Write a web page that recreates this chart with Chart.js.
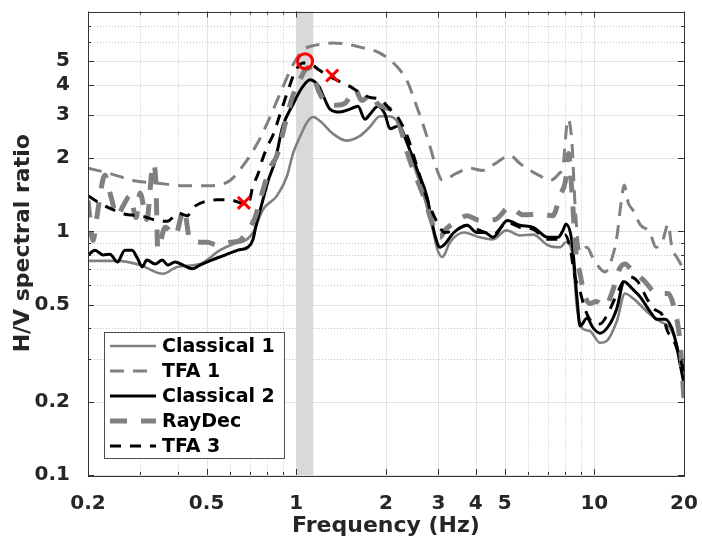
<!DOCTYPE html>
<html>
<head>
<meta charset="utf-8">
<script src="https://cdn.jsdelivr.net/npm/chart.js@4.4.1/dist/chart.umd.min.js"></script>
<style>
  html, body { margin: 0; padding: 0; background: #fff; }
</style>
</head>
<body>
<canvas id="hvChart" width="702" height="543"></canvas>
<script>
// H/V curves: frequency (Hz) and spectral ratio for each method
const classical1Freq = [0.2, 0.251, 0.299, 0.357, 0.398, 0.475, 0.555, 0.611, 0.683, 0.716, 0.773, 0.861, 0.931, 0.975, 1.029, 1.087, 1.138, 1.201, 1.328, 1.469, 1.636, 1.767, 1.909, 2.03, 2.18, 2.316, 2.47, 2.66, 2.87, 2.98, 3.09, 3.28, 3.65, 4.13, 4.57, 5.07, 5.63, 6.24, 6.98, 7.68, 8.03, 8.42, 8.75, 9.10, 9.67, 10.45, 11.0, 11.9, 12.67, 13.5, 15.37, 16.6, 17.94, 18.9, 20];
const classical1Ratio = [0.757, 0.757, 0.728, 0.670, 0.715, 0.735, 0.838, 0.886, 0.928, 0.99, 1.23, 1.40, 1.69, 2.09, 2.45, 2.81, 2.95, 2.84, 2.52, 2.36, 2.47, 2.69, 2.97, 2.97, 2.84, 2.47, 1.90, 1.44, 1.02, 0.838, 0.785, 0.903, 0.99, 0.946, 0.928, 1.01, 0.963, 0.97, 0.878, 0.861, 0.903, 0.822, 0.483, 0.401, 0.390, 0.349, 0.355, 0.428, 0.556, 0.531, 0.457, 0.428, 0.401, 0.345, 0.245];

const tfa1Freq = [0.2, 0.237, 0.283, 0.341, 0.42, 0.502, 0.599, 0.66, 0.739, 0.816, 0.90, 0.975, 1.054, 1.164, 1.328, 1.469, 1.636, 1.909, 2.18, 2.36, 2.50, 2.66, 2.81, 2.97, 3.09, 3.44, 3.83, 4.20, 4.65, 5.21, 5.63, 6.09, 6.58, 7.10, 7.62, 7.85, 8.16, 8.42, 8.61, 8.96, 9.45, 9.86, 10.36, 10.86, 11.5, 11.9, 12.3, 12.6, 13.0, 13.5, 14.23, 15.37, 16.1, 16.9, 17.7, 18.2, 18.9, 19.5, 20];
const tfa1Ratio = [1.82, 1.73, 1.62, 1.58, 1.54, 1.54, 1.62, 1.85, 2.29, 2.95, 3.90, 4.83, 5.56, 5.82, 5.94, 5.88, 5.71, 5.40, 4.74, 4.12, 3.42, 2.76, 2.23, 1.78, 1.62, 1.73, 1.82, 1.78, 1.90, 2.05, 1.90, 1.78, 1.69, 1.62, 1.73, 1.85, 2.89, 2.29, 1.31, 0.822, 0.861, 0.785, 0.715, 0.682, 0.785, 0.946, 1.31, 1.55, 1.31, 1.22, 1.07, 0.99, 0.861, 0.903, 1.07, 0.861, 0.785, 0.735, 0.682];

const classical2Freq = [0.2, 0.211, 0.225, 0.237, 0.251, 0.266, 0.281, 0.294, 0.304, 0.315, 0.336, 0.355, 0.371, 0.392, 0.417, 0.447, 0.475, 0.52, 0.577, 0.637, 0.688, 0.716, 0.733, 0.768, 0.804, 0.848, 0.90, 0.975, 1.046, 1.112, 1.19, 1.238, 1.297, 1.40, 1.514, 1.61, 1.70, 1.767, 1.88, 1.984, 2.062, 2.20, 2.36, 2.55, 2.74, 2.92, 3.035, 3.15, 3.38, 3.74, 4.04, 4.29, 4.57, 5.11, 5.63, 6.24, 6.98, 7.56, 7.85, 8.03, 8.42, 8.75, 8.96, 9.45, 9.92, 10.45, 11.28, 11.9, 12.6, 13.4, 14.23, 15.37, 16.2, 17.26, 18.2, 18.9, 19.38, 20];
const classical2Ratio = [0.80, 0.838, 0.80, 0.807, 0.749, 0.838, 0.838, 0.77, 0.715, 0.763, 0.735, 0.763, 0.728, 0.749, 0.728, 0.702, 0.728, 0.763, 0.80, 0.838, 0.861, 0.928, 1.06, 1.31, 1.61, 1.94, 2.69, 3.33, 3.90, 4.20, 3.94, 3.55, 3.18, 3.09, 3.18, 3.27, 2.89, 3.03, 3.27, 3.03, 2.64, 2.71, 2.29, 1.78, 1.40, 0.963, 0.861, 0.886, 0.99, 1.06, 0.99, 0.99, 0.946, 1.11, 1.06, 1.04, 0.946, 0.946, 1.01, 1.07, 0.903, 0.531, 0.409, 0.44, 0.401, 0.382, 0.417, 0.483, 0.622, 0.582, 0.540, 0.470, 0.436, 0.436, 0.401, 0.339, 0.287, 0.236];

const rayDecFreq = [0.2, 0.208, 0.214, 0.228, 0.237, 0.251, 0.262, 0.277, 0.29, 0.299, 0.315, 0.331, 0.338, 0.343, 0.363, 0.392, 0.42, 0.44, 0.502, 0.546, 0.604, 0.647, 0.688, 0.727, 0.768, 0.816, 0.861, 0.917, 0.967, 1.029, 1.095, 1.138, 1.19, 1.248, 1.349, 1.457, 1.574, 1.66, 1.78, 1.88, 2.143, 2.41, 2.70, 2.87, 3.035, 3.15, 3.41, 3.74, 4.13, 4.65, 5.21, 5.77, 6.58, 7.26, 7.68, 8.0, 8.2, 8.35, 8.48, 8.68, 8.96, 9.24, 9.67, 10.15, 10.86, 11.5, 12.1, 12.67, 13.5, 14.6, 16.3, 17.7, 18.65, 19.38, 20];
const rayDecRatio = [1.34, 0.919, 1.14, 1.70, 1.44, 1.16, 1.27, 1.40, 1.14, 1.44, 1.12, 1.90, 1.58, 0.845, 1.04, 0.963, 1.23, 0.919, 0.903, 0.878, 0.903, 0.919, 1.01, 1.14, 1.44, 1.82, 2.05, 2.76, 3.52, 4.20, 4.70, 4.40, 3.76, 3.42, 3.30, 3.36, 3.83, 3.45, 3.65, 3.33, 3.03, 1.94, 1.35, 1.07, 0.946, 1.01, 1.09, 1.16, 1.11, 1.12, 1.26, 1.17, 1.18, 1.16, 1.41, 1.61, 2.09, 1.65, 1.25, 0.822, 0.67, 0.556, 0.506, 0.516, 0.492, 0.566, 0.695, 0.735, 0.682, 0.633, 0.556, 0.556, 0.47, 0.355, 0.203];

const tfa3Freq = [0.2, 0.223, 0.246, 0.273, 0.299, 0.341, 0.369, 0.402, 0.43, 0.457, 0.497, 0.546, 0.599, 0.647, 0.688, 0.716, 0.745, 0.768, 0.80, 0.839, 0.882, 0.953, 0.99, 1.054, 1.13, 1.19, 1.297, 1.514, 1.61, 1.767, 1.909, 2.062, 2.18, 2.36, 2.55, 2.74, 2.97, 3.15, 3.41, 3.74, 4.13, 4.57, 5.11, 5.63, 6.24, 6.98, 7.56, 7.97, 8.29, 8.61, 8.96, 9.31, 9.92, 10.45, 11.0, 11.73, 12.5, 13.17, 14.0, 15.0, 15.8, 17.0, 17.6, 18.5, 19.38, 20];
const tfa3Ratio = [1.40, 1.29, 1.22, 1.17, 1.16, 1.11, 1.10, 1.19, 1.16, 1.27, 1.33, 1.35, 1.35, 1.31, 1.29, 1.54, 1.73, 1.96, 2.23, 2.52, 3.03, 4.01, 4.53, 4.92, 4.83, 4.61, 4.32, 3.94, 3.76, 3.55, 3.49, 3.18, 2.97, 2.45, 1.82, 1.37, 1.09, 0.99, 1.01, 1.06, 1.01, 0.97, 1.09, 1.04, 1.02, 0.928, 0.928, 0.97, 0.861, 0.651, 0.566, 0.479, 0.42, 0.417, 0.449, 0.531, 0.622, 0.651, 0.622, 0.531, 0.483, 0.449, 0.39, 0.355, 0.303, 0.264];

// picked peak (circle) and secondary picks (crosses)
const peakFreq = [1.07];
const peakRatio = [5.0];
const crossFreq = [0.667, 1.32];
const crossRatio = [1.31, 4.37];

// shaded frequency band of the peak
const bandRange = [1.0, 1.14];

// axis ticks
const xTickValues = [0.2, 0.5, 1, 2, 3, 4, 5, 10, 20];
const xMinorValues = [0.3, 0.4, 0.6, 0.7, 0.8, 0.9, 6, 7, 8, 9];
const yTickValues = [0.1, 0.2, 0.5, 1, 2, 3, 4, 5];
const yMinorValues = [0.3, 0.4, 0.6, 0.7, 0.8, 0.9, 6, 7];

const GRAY = '#808080';
const AXIS = '#333333';
const FONT = 'DejaVu Sans';

const pts = (f, r) => f.map((v, i) => ({ x: v, y: r[i] }));

const curve = (label, f, r, color, width, dash, order) => ({
    label: label,
    data: pts(f, r),
    borderColor: color,
    borderWidth: width,
    borderDash: dash,
    borderCapStyle: 'butt',
    borderJoinStyle: 'round',
    cubicInterpolationMode: 'monotone',
    pointRadius: 0,
    fill: false,
    order: order
});

// grid, peak band, box frame, inward ticks and the legend box
const framePlugin = {
    id: 'framePlugin',
    beforeDatasetsDraw(chart) {
        const { ctx, chartArea: a, scales: { x, y } } = chart;
        ctx.save();
        ctx.lineWidth = 1;

        // dotted minor grid
        ctx.strokeStyle = '#c4c4c4';
        ctx.setLineDash([1, 2]);
        ctx.beginPath();
        xMinorValues.forEach(v => {
            const px = Math.round(x.getPixelForValue(v)) + 0.5;
            ctx.moveTo(px, a.top); ctx.lineTo(px, a.bottom);
        });
        yMinorValues.forEach(v => {
            const py = Math.round(y.getPixelForValue(v)) + 0.5;
            ctx.moveTo(a.left, py); ctx.lineTo(a.right, py);
        });
        ctx.stroke();

        // solid major grid
        ctx.setLineDash([]);
        ctx.strokeStyle = '#e2e2e2';
        ctx.beginPath();
        xTickValues.forEach(v => {
            const px = Math.round(x.getPixelForValue(v)) + 0.5;
            ctx.moveTo(px, a.top); ctx.lineTo(px, a.bottom);
        });
        yTickValues.forEach(v => {
            const py = Math.round(y.getPixelForValue(v)) + 0.5;
            ctx.moveTo(a.left, py); ctx.lineTo(a.right, py);
        });
        ctx.stroke();

        // peak frequency band
        const b0 = x.getPixelForValue(bandRange[0]);
        const b1 = x.getPixelForValue(bandRange[1]);
        ctx.fillStyle = '#d9d9d9';
        ctx.fillRect(b0, a.top, b1 - b0, a.bottom - a.top);
        ctx.restore();
    },
    afterDatasetsDraw(chart) {
        const { ctx, chartArea: a, scales: { x, y } } = chart;
        ctx.save();
        ctx.strokeStyle = AXIS;
        ctx.lineWidth = 1;
        ctx.setLineDash([]);
        ctx.strokeRect(Math.round(a.left) + 0.5, Math.round(a.top) + 0.5,
            Math.round(a.right - a.left), Math.round(a.bottom - a.top));

        ctx.beginPath();
        const xTick = (v, len) => {
            const px = Math.round(x.getPixelForValue(v)) + 0.5;
            ctx.moveTo(px, a.bottom); ctx.lineTo(px, a.bottom - len);
            ctx.moveTo(px, a.top); ctx.lineTo(px, a.top + len);
        };
        const yTick = (v, len) => {
            const py = Math.round(y.getPixelForValue(v)) + 0.5;
            ctx.moveTo(a.left, py); ctx.lineTo(a.left + len, py);
            ctx.moveTo(a.right, py); ctx.lineTo(a.right - len, py);
        };
        xTickValues.forEach(v => xTick(v, 6));
        xMinorValues.forEach(v => xTick(v, 3));
        yTickValues.forEach(v => yTick(v, 6));
        yMinorValues.forEach(v => yTick(v, 3));
        ctx.stroke();

        // legend box, lower left
        const lx = 104, ly = 332, lw = 180, lh = 126;
        ctx.fillStyle = '#ffffff';
        ctx.fillRect(lx, ly, lw, lh);
        ctx.strokeStyle = '#4d4d4d';
        ctx.strokeRect(lx + 0.5, ly + 0.5, lw, lh);
        ctx.font = 'bold 19px "' + FONT + '"';
        ctx.textBaseline = 'middle';
        ctx.textAlign = 'left';
        let row = 0;
        chart.data.datasets.forEach(ds => {
            if (ds.hideInLegend) return;
            const cy = ly + 14 + row * 25;
            ctx.beginPath();
            ctx.strokeStyle = ds.borderColor;
            ctx.lineWidth = ds.borderWidth;
            ctx.setLineDash(ds.borderDash || []);
            ctx.moveTo(lx + 6, cy);
            ctx.lineTo(lx + 52, cy);
            ctx.stroke();
            ctx.setLineDash([]);
            ctx.fillStyle = '#000000';
            ctx.fillText(ds.label, lx + 58, cy + 1);
            row++;
        });
        ctx.restore();
    }
};

const datasets = [
    curve('Classical 1', classical1Freq, classical1Ratio, GRAY, 2.6, [], 6),
    curve('TFA 1', tfa1Freq, tfa1Ratio, GRAY, 3, [14, 9], 5),
    curve('Classical 2', classical2Freq, classical2Ratio, '#000000', 3, [], 4),
    curve('RayDec', rayDecFreq, rayDecRatio, GRAY, 5, [17, 14], 3),
    curve('TFA 3', tfa3Freq, tfa3Ratio, '#000000', 3, [11, 9], 2),
    {
        label: 'peak',
        hideInLegend: true,
        data: pts(peakFreq, peakRatio),
        showLine: false,
        pointStyle: 'circle',
        pointRadius: 7.5,
        pointBorderWidth: 3,
        pointBorderColor: '#ff0000',
        pointBackgroundColor: 'rgba(0,0,0,0)',
        order: 0
    },
    {
        label: 'picks',
        hideInLegend: true,
        data: pts(crossFreq, crossRatio),
        showLine: false,
        pointStyle: 'crossRot',
        pointRadius: 8.5,
        pointBorderWidth: 3,
        pointBorderColor: '#ff0000',
        order: 0
    }
];

const ctxHV = document.getElementById('hvChart').getContext('2d');
new Chart(ctxHV, {
    type: 'line',
    data: { datasets: datasets },
    plugins: [framePlugin],
    options: {
        responsive: false,
        animation: false,
        layout: { padding: { top: 6, right: 18, left: 0, bottom: 0 } },
        plugins: { legend: { display: false }, tooltip: { enabled: false } },
        scales: {
            x: {
                type: 'logarithmic',
                min: 0.2,
                max: 20,
                afterBuildTicks: scale => { scale.ticks = xTickValues.map(v => ({ value: v })); },
                afterFit: scale => {
                    scale.height = 68;
                    scale.paddingLeft = 0;
                    scale.paddingRight = 0;
                },
                grid: { display: false },
                border: { display: false },
                ticks: {
                    autoSkip: false, maxRotation: 0, minRotation: 0, padding: 9,
                    color: '#262626',
                    font: { family: FONT, size: 20, weight: 'bold' },
                    callback: v => String(v)
                },
                title: {
                    display: true, text: 'Frequency (Hz)', color: '#262626',
                    font: { family: FONT, size: 22, weight: 'bold' },
                    padding: { top: 0, bottom: 4 }
                }
            },
            y: {
                type: 'logarithmic',
                min: 0.1,
                max: 8,
                afterBuildTicks: scale => { scale.ticks = yTickValues.map(v => ({ value: v })); },
                afterFit: scale => {
                    scale.width = 88;
                    scale.paddingTop = 0;
                    scale.paddingBottom = 0;
                },
                grid: { display: false },
                border: { display: false },
                ticks: {
                    autoSkip: false, padding: 10,
                    color: '#262626',
                    font: { family: FONT, size: 20, weight: 'bold' },
                    callback: v => String(v)
                },
                title: {
                    display: true, text: 'H/V spectral ratio', color: '#262626',
                    font: { family: FONT, size: 22, weight: 'bold' },
                    padding: { top: 10, bottom: 0 }
                }
            }
        }
    }
});
</script>
</body>
</html>
